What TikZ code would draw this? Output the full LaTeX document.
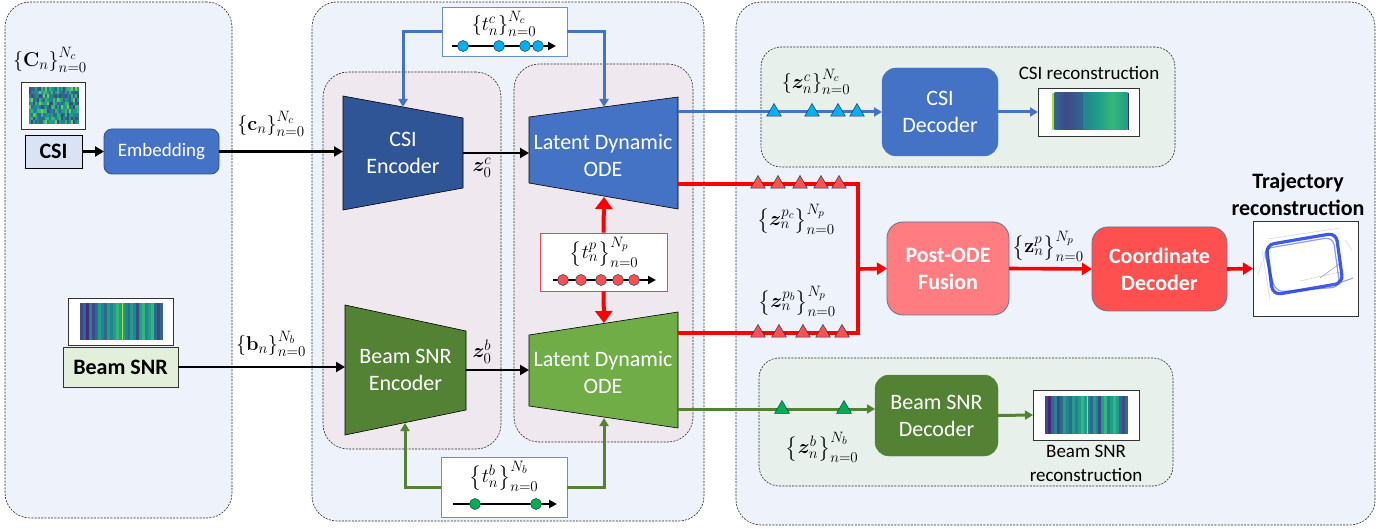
\RequirePackage{fix-cm}
\documentclass[tikz,border=0pt]{standalone}
\usepackage{amsmath}
\usepackage{bm}
\usepackage[no-math]{fontspec}
\setmainfont{Carlito}
\usetikzlibrary{arrows.meta,shapes.geometric}

\definecolor{panelbg}{RGB}{238,242,250}
\definecolor{innerbg}{RGB}{239,232,238}
\definecolor{decbg}{RGB}{232,240,235}
\definecolor{csienc}{HTML}{2F5597}
\definecolor{blueode}{HTML}{4472C4}
\definecolor{beamenc}{HTML}{548235}
\definecolor{greenode}{HTML}{70AD47}
\definecolor{csibg}{HTML}{DAE3F3}
\definecolor{beambg}{HTML}{E2EFDA}
\definecolor{bline}{HTML}{4472C4}
\definecolor{gline}{HTML}{548235}
\definecolor{rline}{HTML}{FF0000}
\definecolor{fusionc}{HTML}{FF7C80}
\definecolor{coordc}{HTML}{FF5050}
\definecolor{cyandot}{HTML}{00B0F0}
\definecolor{reddot}{HTML}{FF5050}
\definecolor{greendot}{HTML}{00B050}
\definecolor{navy}{HTML}{1F3864}
\definecolor{embb}{HTML}{2F528F}
\definecolor{trajblue}{HTML}{1E3CE6}
\definecolor{v0}{HTML}{440154}
\definecolor{v1}{HTML}{482878}
\definecolor{v2}{HTML}{3E4989}
\definecolor{v3}{HTML}{31688E}
\definecolor{v4}{HTML}{26828E}
\definecolor{v5}{HTML}{1F9E89}
\definecolor{v6}{HTML}{35B779}
\definecolor{v7}{HTML}{6ECE58}
\definecolor{v8}{HTML}{B5DE2B}
\definecolor{v9}{HTML}{FDE725}

\newcommand\bigtxt{\fontsize{22}{27}\selectfont}
\newcommand\midtxt{\fontsize{19}{24}\selectfont}
\newcommand\mtxt{\fontsize{20}{24}\selectfont}
\DeclareMathSizes{20}{20}{15}{11}

\pgfmathdeclarerandomlist{vir}{{v2}{v3}{v4}{v5}{v6}{v7}{v4}{v5}{v3}{v2}{v6}}

\begin{document}
\begin{tikzpicture}[x=1pt,y=-1pt,
  panel/.style={draw=black!85, dash pattern=on 2pt off 1.3pt, line width=0.6pt, rounded corners=#1, inner sep=0pt, outer sep=0pt},
  panel/.default=25pt,
  box/.style={inner sep=0pt, outer sep=0pt, align=center, font=\bigtxt, text=white},
  imgbox/.style={draw=black!80, line width=0.8pt, fill=white, inner sep=0pt, outer sep=0pt},
  trap/.style={draw=black, line width=0.6pt},
  lbl/.style={inner sep=0pt, font=\mtxt},
  tri/.style={regular polygon, regular polygon sides=3, minimum size=17pt, inner sep=0pt, draw=navy, line width=0.5pt},
  tdot/.style={circle, minimum size=11pt, inner sep=0pt, draw=navy, line width=0.5pt},
  blk/.style={draw=black, line width=2.6pt, -{Triangle[length=9pt,width=10pt]}},
  bl/.style={draw=bline, line width=3pt},
  gl/.style={draw=gline, line width=3pt},
  rl/.style={draw=rline, line width=3.6pt},
  tl/.style={draw=black, line width=2pt, -{Triangle[length=8pt,width=8pt]}},
]
\useasboundingbox (0,0) rectangle (1395,529);
\fill[white] (0,0) rectangle (1395,529);

% ---------- panels ----------
\node[panel, fill=panelbg, minimum width=227pt, minimum height=516pt] (leftp) at (118.5,260) {};
\node[panel, fill=panelbg, minimum width=392pt, minimum height=519pt] (midp) at (508,261.5) {};
\node[panel, fill=panelbg, minimum width=639pt, minimum height=523pt] (rightp) at (1055.5,263.5) {};
\node[panel, fill=innerbg, minimum width=178pt, minimum height=377pt] (encp) at (412,260.5) {};
\node[panel, fill=innerbg, minimum width=179pt, minimum height=378pt] (odep) at (603.5,253) {};
\node[panel=20pt, fill=decbg, minimum width=414pt, minimum height=120pt] (csigrp) at (968,107) {};
\node[panel=20pt, fill=decbg, minimum width=414pt, minimum height=128pt] (beamgrp) at (966,422) {};

% ---------- left panel ----------
\node[lbl] (Cn) at (50,60) {$\{\mathbf{C}_n\}_{n=0}^{N_c}$};
\node[imgbox, minimum width=64pt, minimum height=47pt] (csiimg) at (53,105.5) {};
\pgfmathsetseed{11}
\foreach \i in {0,...,24}{\foreach \j in {0,...,9}{%
  \pgfmathrandomitem{\cc}{vir}%
  \fill[\cc] ({29+\i*2},{87+\j*3.7}) rectangle ++(2.05,3.75);}}
\node[draw=black, line width=0.8pt, fill=csibg, minimum width=57pt, minimum height=33pt, inner sep=0pt, font=\bigtxt\bfseries] (csibox) at (53.5,151.5) {CSI};
\node[box, draw=embb, line width=0.8pt, fill=blueode, rounded corners=8pt, minimum width=115pt, minimum height=45pt, font=\midtxt] (emb) at (161.5,151.5) {Embedding};
\draw[draw=black, line width=2.6pt, -{Triangle[length=9pt,width=10pt]}] (csibox.east) -- (emb.west);

\node[imgbox, minimum width=105pt, minimum height=47pt] (beamimg) at (120.5,321.5) {};
\foreach \c [count=\k from 0] in {v2,v3,v1,v4,v2,v3,v5,v4,v3,v5,v4,v5,v6,v5,v5,v4,v3,v5,v4,v2,v5,v6,v4,v5,v6,v3,v2,v3}{%
  \fill[\c] ({80+\k*2.97},303) rectangle ++(3.05,37);}
\fill[v8] (121.5,303) rectangle ++(1.4,37);
\node[draw=black!80, line width=0.8pt, fill=beambg, minimum width=115pt, minimum height=40pt, inner sep=0pt, font=\bigtxt\bfseries] (beambox) at (120.5,367) {Beam SNR};

\node[lbl] (cn) at (271,124) {$\{\mathbf{c}_n\}_{n=0}^{N_c}$};
\node[lbl] (bn) at (271,344) {$\{\mathbf{b}_n\}_{n=0}^{N_b}$};

% ---------- trapezoids ----------
\coordinate (ce1) at (343,96);  \coordinate (ce2) at (463,118);
\coordinate (ce3) at (463,188); \coordinate (ce4) at (343,210);
\draw[trap, fill=csienc] (ce1) -- (ce2) -- (ce3) -- (ce4) -- cycle;
\node[box] (csienc) at (403,153) {CSI\\Encoder};

\coordinate (ot1) at (529,117); \coordinate (ot2) at (678,97);
\coordinate (ot3) at (678,209); \coordinate (ot4) at (529,183);
\draw[trap, fill=blueode] (ot1) -- (ot2) -- (ot3) -- (ot4) -- cycle;
\node[box] (odet) at (603,156) {Latent Dynamic\\ODE};

\coordinate (be1) at (345,305); \coordinate (be2) at (466,331);
\coordinate (be3) at (466,410); \coordinate (be4) at (345,435);
\draw[trap, fill=beamenc] (be1) -- (be2) -- (be3) -- (be4) -- cycle;
\node[box] (beamenc) at (405.5,370) {Beam SNR\\Encoder};

\coordinate (ob1) at (529,335); \coordinate (ob2) at (678,312);
\coordinate (ob3) at (678,428); \coordinate (ob4) at (529,406);
\draw[trap, fill=greenode] (ob1) -- (ob2) -- (ob3) -- (ob4) -- cycle;
\node[box] (odeb) at (603,373) {Latent Dynamic\\ODE};

% connector end points on trapezoids
\coordinate (ceIn) at (343,151.5);
\coordinate (ceOut) at (463,153);
\coordinate (otIn) at (529,153);
\coordinate (ceTop) at (403,107);
\coordinate (otTop) at (604,107);
\coordinate (otBot) at (604,197);
\coordinate (beIn) at (345,367);
\coordinate (beOut) at (466,370);
\coordinate (obIn) at (529,370);
\coordinate (beBot) at (405,423);
\coordinate (obTop) at (604,323);
\coordinate (obBot) at (604,418);
\coordinate (otR1) at (678,112);
\coordinate (otR2) at (678,184);
\coordinate (obR1) at (678,333);
\coordinate (obR2) at (678,409);
\coordinate (rj) at (858,269);

\draw[blk] (emb.east) -- (ceIn);
\draw[blk] (beambox.east) -- (beIn);
\draw[blk] (ceOut) -- (otIn);
\draw[blk] (beOut) -- (obIn);
\node[lbl] (z0c) at (482,168) {$\bm{z}_0^c$};
\node[lbl] (z0b) at (482,352) {$\bm{z}_0^b$};

% ---------- time boxes ----------
\node[draw=bline!80, line width=0.8pt, fill=white, minimum width=125pt, minimum height=49pt, inner sep=0pt] (tc) at (504.5,31.5) {};
\node[lbl] (tclbl) at (504,24) {$\left\{t_n^c\right\}_{n=0}^{N_c}$};
\coordinate (tcA) at (452,46); \coordinate (tcB) at (556,46);
\draw[tl] (tcA) -- (tcB);
\foreach \x in {463,499,525,538} \node[tdot, fill=cyandot] at (\x,46) {};

\node[draw=rline!75, line width=0.8pt, fill=white, minimum width=127pt, minimum height=58pt, inner sep=0pt] (tp) at (603.5,262) {};
\node[lbl] (tplbl) at (604,252) {$\left\{t_n^p\right\}_{n=0}^{N_p}$};
\coordinate (tpA) at (553,280); \coordinate (tpB) at (656,280);
\draw[tl] (tpA) -- (tpB);
\foreach \x in {563,581,601,618,634} \node[tdot, fill=reddot] at (\x,280) {};

\node[draw=gline!80, line width=0.8pt, fill=white, minimum width=126pt, minimum height=60pt, inner sep=0pt] (tb) at (504,487) {};
\node[lbl] (tblbl) at (504,476) {$\left\{t_n^b\right\}_{n=0}^{N_b}$};
\coordinate (tbA) at (453,504); \coordinate (tbB) at (557,504);
\draw[tl] (tbA) -- (tbB);
\foreach \x in {475,536} \node[tdot, fill=greendot] at (\x,504) {};

\draw[bl, -{Triangle[length=8pt,width=9pt]}] (tc.west) -| (ceTop);
\draw[bl, -{Triangle[length=8pt,width=9pt]}] (tc.east) -| (otTop);
\draw[gl, -{Triangle[length=8pt,width=9pt]}] (tb.west) -| (beBot);
\draw[gl, -{Triangle[length=8pt,width=9pt]}] (tb.east) -| (obBot);
\draw[draw=rline, line width=4pt, -{Triangle[length=12pt,width=17pt]}] (tp.north) -- (otBot);
\draw[draw=rline, line width=4pt, -{Triangle[length=12pt,width=17pt]}] (tp.south) -- (obTop);

% ---------- right panel boxes ----------
\node[box, draw=bline, fill=blueode, rounded corners=14pt, minimum width=116pt, minimum height=88pt] (csidec) at (940,112) {CSI\\Decoder};
\node[imgbox, minimum width=101pt, minimum height=48pt] (csirec) at (1088.5,112) {};
\fill[v8] (1052,93) rectangle (1054.5,130);
\shade[left color=v3, right color=v2] (1054.5,93) rectangle (1066,130);
\shade[left color=v2, right color=v3] (1066,93) rectangle (1083,130);
\shade[left color=v4, right color=v5] (1083,93) rectangle (1098,130);
\shade[left color=v5, right color=v6] (1098,93) rectangle (1112,130);
\shade[left color=v6, right color=v5] (1112,93) rectangle (1127.5,130);
\fill[v1] (1127.5,93) rectangle (1129,130);
\node[inner sep=0pt, font=\midtxt] (csireclbl) at (1089,73) {CSI reconstruction};

\node[box, draw=navy!70, line width=0.8pt, fill=fusionc, rounded corners=16pt, minimum width=122pt, minimum height=93pt, font=\bigtxt\bfseries] (fusion) at (948,268.5) {Post-ODE\\Fusion};
\node[box, draw=navy!70, line width=0.8pt, fill=coordc, rounded corners=16pt, minimum width=135pt, minimum height=84pt, font=\bigtxt\bfseries] (coord) at (1159.5,269) {Coordinate\\Decoder};
\node[imgbox, minimum width=105pt, minimum height=95pt] (traj) at (1305.5,268.5) {};
\begin{scope}
\draw[gray!45, line width=0.4pt] (1262,250) -- (1270,300);
\draw[gray!45, line width=0.4pt] (1268,239) -- (1340,228);
\draw[gray!45, line width=0.4pt] (1300,281) -- (1340,272);
\draw[gray!40, line width=0.4pt] (1262,262) -- (1258,275);
\draw[gray!40, line width=0.4pt] (1345,240) -- (1352,250);
\draw[trajblue!50, line width=0.6pt] (1320,278) -- (1342,262);
\draw[trajblue, line width=3.2pt, rounded corners=8pt, opacity=0.85] (1266,245) -- (1336,233) -- (1343,283) -- (1273,295) -- cycle;
\draw[trajblue, line width=1.2pt, rounded corners=8pt, opacity=0.5] (1263,249) -- (1333,237) -- (1340,287) -- (1276,292) -- cycle;
\draw[trajblue, line width=0.8pt, opacity=0.4] (1268,252) -- (1270,288);
\draw[trajblue!70, line width=1pt, opacity=0.7] (1328,287) -- (1353,278);
\end{scope}
\node[inner sep=0pt, font=\bigtxt\bfseries, align=center] (trajlbl) at (1298,194) {Trajectory\\reconstruction};

\node[box, draw=gline, fill=beamenc, rounded corners=14pt, minimum width=123pt, minimum height=81pt] (beamdec) at (936.5,415.5) {Beam SNR\\Decoder};
\node[imgbox, minimum width=106pt, minimum height=50pt] (beamrec) at (1086,415) {};
\foreach \c [count=\k from 0] in {v2,v1,v3,v4,v2,v3,v5,v4,v3,v5,v4,v5,v6,v5,v4,v3,v5,v4,v2,v5,v6,v4,v5,v6,v5,v3,v2,v3}{%
  \fill[\c] ({1045+\k*2.97},396) rectangle ++(3.05,38);}
\fill[v8] (1086.5,396) rectangle ++(1.3,38);
\node[inner sep=0pt, font=\midtxt, align=center] (beamreclbl) at (1086,463) {Beam SNR\\reconstruction};

% ---------- output connectors ----------
\draw[bl, -{Triangle[length=8pt,width=9pt]}] (otR1) -- (csidec.west);
\draw[bl, -{Triangle[length=8pt,width=9pt]}] (csidec.east) -- (csirec.west);
\draw[gl, -{Triangle[length=8pt,width=9pt]}] (obR2) -- (obR2 -| beamdec.west);
\draw[gl, -{Triangle[length=8pt,width=9pt]}] (beamdec.east) -- (beamrec.west);
\draw[rl] (otR2) -| (rj);
\draw[rl] (obR1) -| (rj);
\draw[rl, -{Triangle[length=10pt,width=12pt]}] (rj) -- (fusion.west);
\draw[rl, -{Triangle[length=10pt,width=12pt]}] (fusion.east) -- (coord.west);
\draw[rl, -{Triangle[length=10pt,width=12pt]}] (coord.east) -- (traj.west);

\foreach \x in {774,812,838,857} \node[tri, fill=cyandot] at (\x,112) {};
\foreach \x in {758,778,800,821,839} \node[tri, fill=reddot] at (\x,184) {};
\foreach \x in {758,779,803,823,842} \node[tri, fill=reddot] at (\x,333) {};
\foreach \x in {782,844} \node[tri, fill=greendot] at (\x,409) {};

\node[lbl] (znc) at (816,82) {$\left\{\bm{z}_n^c\right\}_{n=0}^{N_c}$};
\node[lbl] (zpc) at (796,219) {$\left\{\bm{z}_n^{p_c}\right\}_{n=0}^{N_p}$};
\node[lbl] (zpb) at (797,301) {$\left\{\bm{z}_n^{p_b}\right\}_{n=0}^{N_p}$};
\node[lbl] (zp) at (1048,246) {$\left\{\mathbf{z}_n^p\right\}_{n=0}^{N_p}$};
\node[lbl] (zb) at (822,447) {$\left\{\bm{z}_n^b\right\}_{n=0}^{N_b}$};
\end{tikzpicture}
\end{document}
